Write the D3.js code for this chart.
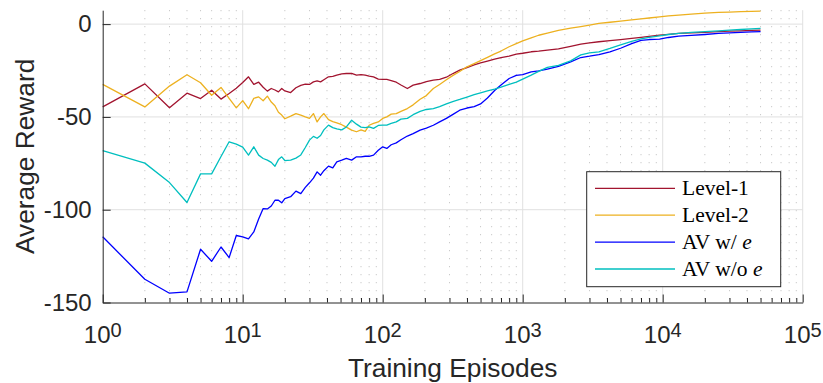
<html>
<head>
  <meta http-equiv='Content-Type' content='text/html;charset=utf-8'>
  <title>Average Reward vs Training Episodes</title>
  <script src="https://cdn.jsdelivr.net/npm/d3@7"></script>
  <style type='text/css'>
    body { margin: 0; background: #fff; }
    svg { display: block; }
    .tick-label { font-family: 'Liberation Sans', Arial, sans-serif; fill: #262626; }
    .axis-title { font-family: 'Liberation Sans', Arial, sans-serif; fill: #262626; }
    .legend text { font-family: 'Liberation Serif', 'Times New Roman', serif; fill: #000; }
  </style>
</head>
<body>
<div id="chart"></div>
<script type='text/javascript'>

// training episodes where the curves were sampled
var episodes = [1, 2, 3, 4, 5, 6, 7, 8, 9, 10, 11, 12, 13, 14, 15,
  16, 17, 18, 19, 20,
  22, 24, 26, 28, 30, 32, 34, 36, 38,
  41, 44, 47, 51, 55, 60, 65, 70, 75, 80, 86, 93, 100,
  107, 115, 125, 135, 150, 165, 185, 205, 230, 255, 285, 320, 355, 400, 450, 500, 560, 630, 700, 800, 900, 1000,
  1150, 1300, 1500, 1800, 2200, 2600, 3000, 3500, 4200, 5000, 6000, 7000, 8000, 9500,
  11000, 13000, 16000, 20000, 25000, 30000, 36000, 43000, 50000];

var level1 = [-44.6, -32.2, -45.1, -37.2, -40.1, -35.6, -40.4, -37.4, -34.5, -31.5, -28.4, -32.5, -31.3, -34, -36.1,
  -34.7, -35.5, -36.5, -34.7, -36,
  -36.9, -34.3, -33, -32.3, -32.5, -31.1, -30.6, -31.1, -30,
  -28.4, -28.2, -27.5, -26.8, -26.6, -26.6, -27.5, -27.2, -27.5, -28, -28.4, -29.6, -29.8,
  -29.8, -30.5, -31.3, -32.8, -34.7, -32.9, -32, -31, -30.2, -29.8, -28.6, -26.5, -24.8, -23.4, -22, -20.9, -19.9, -18.8, -18, -17.3, -16.2, -15.7,
  -14.9, -14.6, -14, -13.3, -12, -10.8, -10.1, -9.5, -8.9, -8.3, -7.7, -7.1, -6.6, -5.9,
  -5.5, -5, -4.7, -4.4, -4, -3.8, -3.6, -3.4, -3.2];

var level2 = [-32.5, -44.6, -33.4, -27.3, -31.6, -38.3, -34.1, -40, -45.1, -41.2, -45.6, -40, -39.2, -41.3, -38.8,
  -42, -44, -47.5, -49, -51,
  -49.6, -48.2, -49, -50, -50.8, -48.2, -52.7, -50, -48.2,
  -51.5, -52.5, -53.2, -54.2, -55.5, -57.1, -58, -57, -57.8, -54.5, -53.5, -52.7, -50.8,
  -50, -48.5, -48.2, -47, -45.5, -43.5, -40.5, -38.5, -34.7, -32.5, -30, -27.5, -25.5, -23, -21.3, -19.7, -17.9, -16, -14.5, -12.2, -10.5, -9,
  -7.4, -6, -4.9, -3.4, -2.2, -1.3, -0.5, 0.4, 1, 1.6, 2.3, 2.8, 3.3, 3.9,
  4.4, 4.9, 5.4, 5.9, 6.3, 6.5, 6.7, 6.9, 7];

var avWithE = [-114.6, -137.5, -145, -144.3, -121.3, -127.8, -120.1, -125.8, -113.9, -114.6, -115.7, -112, -105, -99.4, -99.6,
  -98, -94.9, -94.9, -96.3, -94,
  -93, -90, -91.3, -88, -85.5, -83, -79.6, -81.4, -79,
  -76.5, -77.5, -74.2, -73.3, -72.4, -73.3, -71.5, -71.5, -71.2, -71.2, -70.6, -68, -66.1,
  -67, -65, -64, -62.3, -60.3, -59, -57.1, -56, -54.5, -52.7, -50.8, -48.5, -46.4, -45.2, -44.5, -43, -39.8, -35.8, -32.8, -29.3, -27.6, -27.2,
  -25.7, -25.2, -24.2, -22.8, -20.3, -18, -17.3, -16.4, -14.9, -13, -10.5, -8.8, -8.3, -8.1,
  -7.2, -6.5, -6.1, -5.6, -5, -4.7, -4.5, -4.2, -4];

var avWithoutE = [-68.1, -74.9, -85.4, -96.1, -80.7, -80.7, -71.3, -63.4, -64.7, -66.3, -70.6, -66.1, -70.6, -72.4, -73.3,
  -74.5, -76.6, -73, -71.5, -73.5,
  -73.3, -72.2, -70.5, -66.5, -62.5, -60.5, -61.5, -60, -57,
  -54.4, -55.8, -56.5, -57, -55.4, -51.8, -53.9, -55.5, -55.8, -55.4, -56.2, -54.6, -54.4,
  -54.4, -53.5, -52.7, -51.2, -50.8, -48.8, -47, -46, -45.5, -44.4, -43, -41.6, -40.6, -39.3, -38, -37, -36, -35, -34, -32.5, -31.3, -29.6,
  -27.5, -25.5, -23.3, -22.2, -19.8, -16.6, -15.5, -14.9, -13.1, -11.2, -9.3, -8, -7.2, -6.3,
  -5.6, -5, -4.5, -4, -3.6, -3.2, -2.9, -2.6, -2.3];

var seriesNames = ['Level-1', 'Level-2', 'AV w/ e', 'AV w/o e'];
var seriesColors = ['#A2142F', '#EDB120', '#0000FF', '#00BFBF'];
var yTicks = [-150, -100, -50, 0];
var xTicks = [1, 10, 100, 1000, 10000, 100000];

(function() {

  var width = 823, height = 383,
      m = { left: 102.7, right: 802.7, top: 10.2, bottom: 302.5 },
      axisColor = '#262626';

  var svg = d3.select('#chart').append('svg')
      .attr('width', width)
      .attr('height', height);

  var x = d3.scaleLog().domain([1, 100000]).range([m.left, m.right]);
  var y = d3.scaleLinear().domain([-150, 7.5]).range([m.bottom, m.top]);

  // minor decade ticks 2..9 x 10^k
  var xMinor = [];
  for (var k = 0; k < 5; k++) {
    for (var j = 2; j < 10; j++) xMinor.push(j * Math.pow(10, k));
  }

  // grid
  var grid = svg.append('g');
  grid.selectAll('line.minor').data(xMinor).enter().append('line')
      .attr('x1', function(d) { return x(d); })
      .attr('x2', function(d) { return x(d); })
      .attr('y1', m.top).attr('y2', m.bottom)
      .style('stroke', '#bdbdbd')
      .style('stroke-width', 1)
      .style('stroke-dasharray', '1,7');
  grid.selectAll('line.vmajor').data(xTicks.slice(1)).enter().append('line')
      .attr('x1', function(d) { return x(d); })
      .attr('x2', function(d) { return x(d); })
      .attr('y1', m.top).attr('y2', m.bottom)
      .style('stroke', '#e0e0e0')
      .style('stroke-width', 1);
  grid.selectAll('line.hmajor').data(yTicks.slice(1)).enter().append('line')
      .attr('x1', m.left).attr('x2', m.right)
      .attr('y1', function(d) { return y(d); })
      .attr('y2', function(d) { return y(d); })
      .style('stroke', '#e0e0e0')
      .style('stroke-width', 1);

  // curves
  var allSeries = [level1, level2, avWithE, avWithoutE];
  var line = d3.line()
      .x(function(d, i) { return x(episodes[i]); })
      .y(function(d) { return y(d); });

  svg.append('g').selectAll('path').data(allSeries).enter().append('path')
      .attr('d', line)
      .style('fill', 'none')
      .style('stroke', function(d, i) { return seriesColors[i]; })
      .style('stroke-width', 1.3)
      .style('stroke-linejoin', 'round');

  // axes, ticks pointing inward like matlab
  var yAxis = d3.axisLeft(y).tickValues(yTicks).tickSize(-8).tickSizeOuter(0)
      .tickPadding(11).tickFormat(function(d) { return String(d); });
  var gy = svg.append('g').attr('transform', 'translate(' + m.left + ',0)').call(yAxis);
  gy.select('.domain').style('stroke', axisColor);
  gy.selectAll('.tick line').style('stroke', axisColor);
  gy.selectAll('.tick text').attr('class', 'tick-label')
      .style('font-size', '24px').attr('fill', axisColor);

  var xAxisMinor = d3.axisBottom(x).tickValues(xMinor).tickSize(-4.5).tickSizeOuter(0).tickFormat('');
  var gxm = svg.append('g').attr('transform', 'translate(0,' + m.bottom + ')').call(xAxisMinor);
  gxm.select('.domain').remove();
  gxm.selectAll('.tick line').style('stroke', axisColor);

  var xAxis = d3.axisBottom(x).tickValues(xTicks).tickSize(-8).tickSizeOuter(0).tickFormat('');
  var gx = svg.append('g').attr('transform', 'translate(0,' + m.bottom + ')').call(xAxis);
  gx.select('.domain').style('stroke', axisColor);
  gx.selectAll('.tick line').style('stroke', axisColor);

  // 10^k labels
  var xl = svg.append('g').selectAll('text').data(xTicks).enter().append('text')
      .attr('class', 'tick-label')
      .attr('x', function(d) { return x(d); })
      .attr('y', 343.3)
      .attr('text-anchor', 'middle')
      .style('font-size', '24px');
  xl.append('tspan').text('10');
  xl.append('tspan')
      .attr('dy', -6.8)
      .style('font-size', '20px')
      .text(function(d) { return Math.round(Math.log10(d)); });

  // axis titles
  svg.append('text').attr('class', 'axis-title')
      .attr('x', (m.left + m.right) / 2).attr('y', 376.5)
      .attr('text-anchor', 'middle')
      .style('font-size', '26.3px')
      .text('Training Episodes');

  svg.append('text').attr('class', 'axis-title')
      .attr('transform', 'translate(33.5,' + ((m.top + m.bottom) / 2) + ') rotate(-90)')
      .attr('text-anchor', 'middle')
      .style('font-size', '26.3px')
      .text('Average Reward');

  // legend
  var legend = svg.append('g').attr('class', 'legend');
  legend.append('rect')
      .attr('x', 586.7).attr('y', 171.7)
      .attr('width', 194).attr('height', 115)
      .style('fill', '#fff')
      .style('stroke', axisColor)
      .style('stroke-width', 1);

  var item = legend.selectAll('g.item').data(seriesNames).enter().append('g')
      .attr('class', 'item')
      .attr('transform', function(d, i) { return 'translate(0,' + (188.3 + i * 26.9) + ')'; });
  item.append('line')
      .attr('x1', 595).attr('x2', 675)
      .style('stroke', function(d, i) { return seriesColors[i]; })
      .style('stroke-width', 1.3);
  var label = item.append('text')
      .attr('x', 682).attr('y', 7)
      .style('font-size', '21.5px');
  label.each(function(d) {
    var t = d3.select(this);
    if (/ e$/.test(d)) {
      t.append('tspan').text(d.slice(0, -1));
      t.append('tspan').style('font-style', 'italic').text('e');
    } else {
      t.text(d);
    }
  });

})();

</script>
</body>
</html>
